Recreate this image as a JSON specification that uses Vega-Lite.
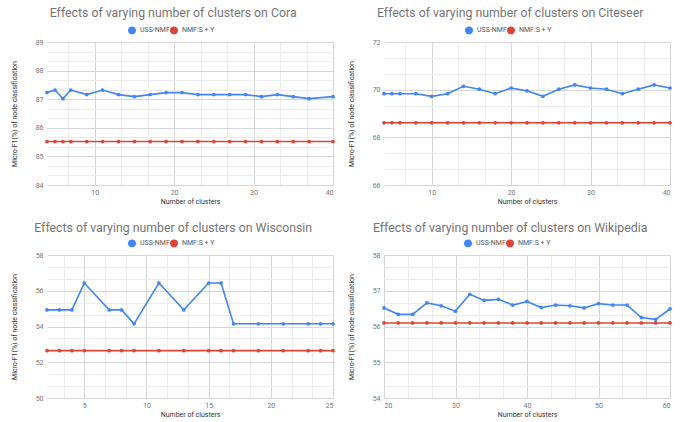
{
  "$schema": "https://vega.github.io/schema/vega-lite/v6.json",
  "padding": {"left": 10, "top": 6, "right": 12, "bottom": 0},
  "config": {
    "font": "Roboto",
    "view": {"stroke": null},
    "title": {"fontSize": 12.3, "color": "#757575", "fontWeight": "normal", "anchor": "middle", "frame": "bounds", "offset": 7},
    "axis": {"labelFontSize": 7, "labelColor": "#757575", "titleFontSize": 7, "titleColor": "#333333", "titleFontWeight": "normal", "ticks": false, "domain": false, "labelOverlap": false, "labelPadding": 4, "format": "d"},
    "axisX": {"titlePadding": 2, "labelPadding": 3},
    "axisY": {"titlePadding": 18}
  },
  "datasets": {
    "cora": [
      {"k": 4, "v": 87.23, "m": "USS-NMF"}, {"k": 5, "v": 87.32, "m": "USS-NMF"}, {"k": 6, "v": 87.02, "m": "USS-NMF"}, {"k": 7, "v": 87.32, "m": "USS-NMF"},
      {"k": 9, "v": 87.16, "m": "USS-NMF"}, {"k": 11, "v": 87.32, "m": "USS-NMF"}, {"k": 13, "v": 87.16, "m": "USS-NMF"}, {"k": 15, "v": 87.09, "m": "USS-NMF"},
      {"k": 17, "v": 87.16, "m": "USS-NMF"}, {"k": 19, "v": 87.23, "m": "USS-NMF"}, {"k": 21, "v": 87.23, "m": "USS-NMF"}, {"k": 23, "v": 87.16, "m": "USS-NMF"},
      {"k": 25, "v": 87.16, "m": "USS-NMF"}, {"k": 27, "v": 87.16, "m": "USS-NMF"}, {"k": 29, "v": 87.16, "m": "USS-NMF"}, {"k": 31, "v": 87.09, "m": "USS-NMF"},
      {"k": 33, "v": 87.16, "m": "USS-NMF"}, {"k": 35, "v": 87.09, "m": "USS-NMF"}, {"k": 37, "v": 87.02, "m": "USS-NMF"}, {"k": 40, "v": 87.09, "m": "USS-NMF"},
      {"k": 4, "v": 85.52, "m": "NMF:S + Y"}, {"k": 5, "v": 85.52, "m": "NMF:S + Y"}, {"k": 6, "v": 85.52, "m": "NMF:S + Y"}, {"k": 7, "v": 85.52, "m": "NMF:S + Y"},
      {"k": 9, "v": 85.52, "m": "NMF:S + Y"}, {"k": 11, "v": 85.52, "m": "NMF:S + Y"}, {"k": 13, "v": 85.52, "m": "NMF:S + Y"}, {"k": 15, "v": 85.52, "m": "NMF:S + Y"},
      {"k": 17, "v": 85.52, "m": "NMF:S + Y"}, {"k": 19, "v": 85.52, "m": "NMF:S + Y"}, {"k": 21, "v": 85.52, "m": "NMF:S + Y"}, {"k": 23, "v": 85.52, "m": "NMF:S + Y"},
      {"k": 25, "v": 85.52, "m": "NMF:S + Y"}, {"k": 27, "v": 85.52, "m": "NMF:S + Y"}, {"k": 29, "v": 85.52, "m": "NMF:S + Y"}, {"k": 31, "v": 85.52, "m": "NMF:S + Y"},
      {"k": 33, "v": 85.52, "m": "NMF:S + Y"}, {"k": 35, "v": 85.52, "m": "NMF:S + Y"}, {"k": 37, "v": 85.52, "m": "NMF:S + Y"}, {"k": 40, "v": 85.52, "m": "NMF:S + Y"}
    ],
    "citeseer": [
      {"k": 4, "v": 69.83, "m": "USS-NMF"}, {"k": 5, "v": 69.83, "m": "USS-NMF"}, {"k": 6, "v": 69.83, "m": "USS-NMF"}, {"k": 8, "v": 69.83, "m": "USS-NMF"},
      {"k": 10, "v": 69.72, "m": "USS-NMF"}, {"k": 12, "v": 69.83, "m": "USS-NMF"}, {"k": 14, "v": 70.14, "m": "USS-NMF"}, {"k": 16, "v": 70.02, "m": "USS-NMF"},
      {"k": 18, "v": 69.83, "m": "USS-NMF"}, {"k": 20, "v": 70.07, "m": "USS-NMF"}, {"k": 22, "v": 69.95, "m": "USS-NMF"}, {"k": 24, "v": 69.72, "m": "USS-NMF"},
      {"k": 26, "v": 70.02, "m": "USS-NMF"}, {"k": 28, "v": 70.2, "m": "USS-NMF"}, {"k": 30, "v": 70.07, "m": "USS-NMF"}, {"k": 32, "v": 70.02, "m": "USS-NMF"},
      {"k": 34, "v": 69.83, "m": "USS-NMF"}, {"k": 36, "v": 70.02, "m": "USS-NMF"}, {"k": 38, "v": 70.2, "m": "USS-NMF"}, {"k": 40, "v": 70.07, "m": "USS-NMF"},
      {"k": 4, "v": 68.61, "m": "NMF:S + Y"}, {"k": 5, "v": 68.61, "m": "NMF:S + Y"}, {"k": 6, "v": 68.61, "m": "NMF:S + Y"}, {"k": 8, "v": 68.61, "m": "NMF:S + Y"},
      {"k": 10, "v": 68.61, "m": "NMF:S + Y"}, {"k": 12, "v": 68.61, "m": "NMF:S + Y"}, {"k": 14, "v": 68.61, "m": "NMF:S + Y"}, {"k": 16, "v": 68.61, "m": "NMF:S + Y"},
      {"k": 18, "v": 68.61, "m": "NMF:S + Y"}, {"k": 20, "v": 68.61, "m": "NMF:S + Y"}, {"k": 22, "v": 68.61, "m": "NMF:S + Y"}, {"k": 24, "v": 68.61, "m": "NMF:S + Y"},
      {"k": 26, "v": 68.61, "m": "NMF:S + Y"}, {"k": 28, "v": 68.61, "m": "NMF:S + Y"}, {"k": 30, "v": 68.61, "m": "NMF:S + Y"}, {"k": 32, "v": 68.61, "m": "NMF:S + Y"},
      {"k": 34, "v": 68.61, "m": "NMF:S + Y"}, {"k": 36, "v": 68.61, "m": "NMF:S + Y"}, {"k": 38, "v": 68.61, "m": "NMF:S + Y"}, {"k": 40, "v": 68.61, "m": "NMF:S + Y"}
    ],
    "wisconsin": [
      {"k": 2, "v": 54.93, "m": "USS-NMF"}, {"k": 3, "v": 54.93, "m": "USS-NMF"}, {"k": 4, "v": 54.93, "m": "USS-NMF"}, {"k": 5, "v": 56.43, "m": "USS-NMF"},
      {"k": 7, "v": 54.93, "m": "USS-NMF"}, {"k": 8, "v": 54.93, "m": "USS-NMF"}, {"k": 9, "v": 54.15, "m": "USS-NMF"}, {"k": 11, "v": 56.43, "m": "USS-NMF"},
      {"k": 13, "v": 54.93, "m": "USS-NMF"}, {"k": 15, "v": 56.43, "m": "USS-NMF"}, {"k": 16, "v": 56.43, "m": "USS-NMF"}, {"k": 17, "v": 54.15, "m": "USS-NMF"},
      {"k": 19, "v": 54.15, "m": "USS-NMF"}, {"k": 21, "v": 54.15, "m": "USS-NMF"}, {"k": 23, "v": 54.15, "m": "USS-NMF"}, {"k": 24, "v": 54.15, "m": "USS-NMF"},
      {"k": 25, "v": 54.15, "m": "USS-NMF"},
      {"k": 2, "v": 52.65, "m": "NMF:S + Y"}, {"k": 3, "v": 52.65, "m": "NMF:S + Y"}, {"k": 4, "v": 52.65, "m": "NMF:S + Y"}, {"k": 5, "v": 52.65, "m": "NMF:S + Y"},
      {"k": 7, "v": 52.65, "m": "NMF:S + Y"}, {"k": 8, "v": 52.65, "m": "NMF:S + Y"}, {"k": 9, "v": 52.65, "m": "NMF:S + Y"}, {"k": 11, "v": 52.65, "m": "NMF:S + Y"},
      {"k": 13, "v": 52.65, "m": "NMF:S + Y"}, {"k": 15, "v": 52.65, "m": "NMF:S + Y"}, {"k": 16, "v": 52.65, "m": "NMF:S + Y"}, {"k": 17, "v": 52.65, "m": "NMF:S + Y"},
      {"k": 19, "v": 52.65, "m": "NMF:S + Y"}, {"k": 21, "v": 52.65, "m": "NMF:S + Y"}, {"k": 23, "v": 52.65, "m": "NMF:S + Y"}, {"k": 24, "v": 52.65, "m": "NMF:S + Y"},
      {"k": 25, "v": 52.65, "m": "NMF:S + Y"}
    ],
    "wikipedia": [
      {"k": 20, "v": 56.52, "m": "USS-NMF"}, {"k": 22, "v": 56.34, "m": "USS-NMF"}, {"k": 24, "v": 56.34, "m": "USS-NMF"}, {"k": 26, "v": 56.66, "m": "USS-NMF"},
      {"k": 28, "v": 56.58, "m": "USS-NMF"}, {"k": 30, "v": 56.43, "m": "USS-NMF"}, {"k": 32, "v": 56.9, "m": "USS-NMF"}, {"k": 34, "v": 56.73, "m": "USS-NMF"},
      {"k": 36, "v": 56.76, "m": "USS-NMF"}, {"k": 38, "v": 56.6, "m": "USS-NMF"}, {"k": 40, "v": 56.7, "m": "USS-NMF"}, {"k": 42, "v": 56.53, "m": "USS-NMF"},
      {"k": 44, "v": 56.6, "m": "USS-NMF"}, {"k": 46, "v": 56.58, "m": "USS-NMF"}, {"k": 48, "v": 56.52, "m": "USS-NMF"}, {"k": 50, "v": 56.64, "m": "USS-NMF"},
      {"k": 52, "v": 56.6, "m": "USS-NMF"}, {"k": 54, "v": 56.6, "m": "USS-NMF"}, {"k": 56, "v": 56.25, "m": "USS-NMF"}, {"k": 58, "v": 56.2, "m": "USS-NMF"},
      {"k": 60, "v": 56.49, "m": "USS-NMF"},
      {"k": 20, "v": 56.1, "m": "NMF:S + Y"}, {"k": 22, "v": 56.1, "m": "NMF:S + Y"}, {"k": 24, "v": 56.1, "m": "NMF:S + Y"}, {"k": 26, "v": 56.1, "m": "NMF:S + Y"},
      {"k": 28, "v": 56.1, "m": "NMF:S + Y"}, {"k": 30, "v": 56.1, "m": "NMF:S + Y"}, {"k": 32, "v": 56.1, "m": "NMF:S + Y"}, {"k": 34, "v": 56.1, "m": "NMF:S + Y"},
      {"k": 36, "v": 56.1, "m": "NMF:S + Y"}, {"k": 38, "v": 56.1, "m": "NMF:S + Y"}, {"k": 40, "v": 56.1, "m": "NMF:S + Y"}, {"k": 42, "v": 56.1, "m": "NMF:S + Y"},
      {"k": 44, "v": 56.1, "m": "NMF:S + Y"}, {"k": 46, "v": 56.1, "m": "NMF:S + Y"}, {"k": 48, "v": 56.1, "m": "NMF:S + Y"}, {"k": 50, "v": 56.1, "m": "NMF:S + Y"},
      {"k": 52, "v": 56.1, "m": "NMF:S + Y"}, {"k": 54, "v": 56.1, "m": "NMF:S + Y"}, {"k": 56, "v": 56.1, "m": "NMF:S + Y"}, {"k": 58, "v": 56.1, "m": "NMF:S + Y"},
      {"k": 60, "v": 56.1, "m": "NMF:S + Y"}
    ]
  },
  "columns": 2,
  "spacing": {"row": 17, "column": 10},
  "resolve": {"scale": {"x": "independent", "y": "independent", "color": "independent"}, "legend": {"color": "independent"}},
  "concat": [
    {
      "width": 286, "height": 143,
      "title": {"text": "Effects of varying number of clusters on Cora", "offset": 7},
      "data": {"name": "cora"},
      "encoding": {
        "x": {"field": "k", "type": "quantitative", "scale": {"domain": [4, 40], "nice": false, "zero": false},
          "axis": {"title": "Number of clusters", "values": [6.6667, 10, 13.3333, 16.6667, 20, 23.3333, 26.6667, 30, 33.3333, 36.6667, 40],
            "labelExpr": "abs(datum.value/10 - round(datum.value/10)) < 0.01 ? datum.label : ''",
            "gridColor": {"condition": {"test": "abs(datum.value/10 - round(datum.value/10)) < 0.01", "value": "#d6d6d6"}, "value": "#ececec"}}},
        "y": {"field": "v", "type": "quantitative", "scale": {"domain": [84, 89], "nice": false, "zero": false},
          "axis": {"title": "Micro-F1(%) of node classification", "values": [84, 84.3333, 84.6667, 85, 85.3333, 85.6667, 86, 86.3333, 86.6667, 87, 87.3333, 87.6667, 88, 88.3333, 88.6667, 89],
            "labelExpr": "abs(datum.value - round(datum.value)) < 0.01 ? datum.label : ''",
            "gridColor": {"condition": {"test": "abs(datum.value - round(datum.value)) < 0.01", "value": "#d6d6d6"}, "value": "#ececec"}}},
        "color": {"field": "m", "type": "nominal", "scale": {"domain": ["USS-NMF", "NMF:S + Y"], "range": ["#4285F4", "#DB4437"]},
          "legend": {"orient": "none", "legendX": 81, "legendY": -16, "title": null, "direction": "horizontal", "symbolType": "circle", "symbolSize": 42, "labelFontSize": 7, "labelColor": "#555555", "columnPadding": -7}}
      },
      "layer": [
        {"mark": {"type": "line", "strokeWidth": 1.6}},
        {"mark": {"type": "point", "filled": true, "size": 14, "opacity": 1}}
      ]
    },
    {
      "width": 286, "height": 143,
      "title": {"text": "Effects of varying number of clusters on Citeseer", "offset": 7},
      "data": {"name": "citeseer"},
      "encoding": {
        "x": {"field": "k", "type": "quantitative", "scale": {"domain": [4, 40], "nice": false, "zero": false},
          "axis": {"title": "Number of clusters", "values": [6.6667, 10, 13.3333, 16.6667, 20, 23.3333, 26.6667, 30, 33.3333, 36.6667, 40],
            "labelExpr": "abs(datum.value/10 - round(datum.value/10)) < 0.01 ? datum.label : ''",
            "gridColor": {"condition": {"test": "abs(datum.value/10 - round(datum.value/10)) < 0.01", "value": "#d6d6d6"}, "value": "#ececec"}}},
        "y": {"field": "v", "type": "quantitative", "scale": {"domain": [66, 72], "nice": false, "zero": false},
          "axis": {"title": "Micro-F1(%) of node classification", "values": [66, 66.6667, 67.3333, 68, 68.6667, 69.3333, 70, 70.6667, 71.3333, 72],
            "labelExpr": "abs(datum.value/2 - round(datum.value/2)) < 0.01 ? datum.label : ''",
            "gridColor": {"condition": {"test": "abs(datum.value/2 - round(datum.value/2)) < 0.01", "value": "#d6d6d6"}, "value": "#ececec"}}},
        "color": {"field": "m", "type": "nominal", "scale": {"domain": ["USS-NMF", "NMF:S + Y"], "range": ["#4285F4", "#DB4437"]},
          "legend": {"orient": "none", "legendX": 81, "legendY": -16, "title": null, "direction": "horizontal", "symbolType": "circle", "symbolSize": 42, "labelFontSize": 7, "labelColor": "#555555", "columnPadding": -7}}
      },
      "layer": [
        {"mark": {"type": "line", "strokeWidth": 1.6}},
        {"mark": {"type": "point", "filled": true, "size": 14, "opacity": 1}}
      ]
    },
    {
      "width": 286, "height": 143,
      "title": {"text": "Effects of varying number of clusters on Wisconsin", "offset": 5},
      "data": {"name": "wisconsin"},
      "encoding": {
        "x": {"field": "k", "type": "quantitative", "scale": {"domain": [2, 25], "nice": false, "zero": false},
          "axis": {"title": "Number of clusters", "values": [3.3333, 5, 6.6667, 8.3333, 10, 11.6667, 13.3333, 15, 16.6667, 18.3333, 20, 21.6667, 23.3333, 25],
            "labelExpr": "abs(datum.value/5 - round(datum.value/5)) < 0.01 ? datum.label : ''",
            "gridColor": {"condition": {"test": "abs(datum.value/5 - round(datum.value/5)) < 0.01", "value": "#d6d6d6"}, "value": "#ececec"}}},
        "y": {"field": "v", "type": "quantitative", "scale": {"domain": [50, 58], "nice": false, "zero": false},
          "axis": {"title": "Micro-F1(%) of node classification", "values": [50, 50.6667, 51.3333, 52, 52.6667, 53.3333, 54, 54.6667, 55.3333, 56, 56.6667, 57.3333, 58],
            "labelExpr": "abs(datum.value/2 - round(datum.value/2)) < 0.01 ? datum.label : ''",
            "gridColor": {"condition": {"test": "abs(datum.value/2 - round(datum.value/2)) < 0.01", "value": "#d6d6d6"}, "value": "#ececec"}}},
        "color": {"field": "m", "type": "nominal", "scale": {"domain": ["USS-NMF", "NMF:S + Y"], "range": ["#4285F4", "#DB4437"]},
          "legend": {"orient": "none", "legendX": 81, "legendY": -16, "title": null, "direction": "horizontal", "symbolType": "circle", "symbolSize": 42, "labelFontSize": 7, "labelColor": "#555555", "columnPadding": -7}}
      },
      "layer": [
        {"mark": {"type": "line", "strokeWidth": 1.6}},
        {"mark": {"type": "point", "filled": true, "size": 14, "opacity": 1}}
      ]
    },
    {
      "width": 286, "height": 143,
      "title": {"text": "Effects of varying number of clusters on Wikipedia", "offset": 5},
      "data": {"name": "wikipedia"},
      "encoding": {
        "x": {"field": "k", "type": "quantitative", "scale": {"domain": [20, 60], "nice": false, "zero": false},
          "axis": {"title": "Number of clusters", "values": [20, 23.3333, 26.6667, 30, 33.3333, 36.6667, 40, 43.3333, 46.6667, 50, 53.3333, 56.6667, 60],
            "labelExpr": "abs(datum.value/10 - round(datum.value/10)) < 0.01 ? datum.label : ''",
            "gridColor": {"condition": {"test": "abs(datum.value/10 - round(datum.value/10)) < 0.01", "value": "#d6d6d6"}, "value": "#ececec"}}},
        "y": {"field": "v", "type": "quantitative", "scale": {"domain": [54, 58], "nice": false, "zero": false},
          "axis": {"title": "Micro-F1(%) of node classification", "values": [54, 54.3333, 54.6667, 55, 55.3333, 55.6667, 56, 56.3333, 56.6667, 57, 57.3333, 57.6667, 58],
            "labelExpr": "abs(datum.value - round(datum.value)) < 0.01 ? datum.label : ''",
            "gridColor": {"condition": {"test": "abs(datum.value - round(datum.value)) < 0.01", "value": "#d6d6d6"}, "value": "#ececec"}}},
        "color": {"field": "m", "type": "nominal", "scale": {"domain": ["USS-NMF", "NMF:S + Y"], "range": ["#4285F4", "#DB4437"]},
          "legend": {"orient": "none", "legendX": 80, "legendY": -16, "title": null, "direction": "horizontal", "symbolType": "circle", "symbolSize": 42, "labelFontSize": 7, "labelColor": "#555555", "columnPadding": -7}}
      },
      "layer": [
        {"mark": {"type": "line", "strokeWidth": 1.6}},
        {"mark": {"type": "point", "filled": true, "size": 14, "opacity": 1}}
      ]
    }
  ]
}
